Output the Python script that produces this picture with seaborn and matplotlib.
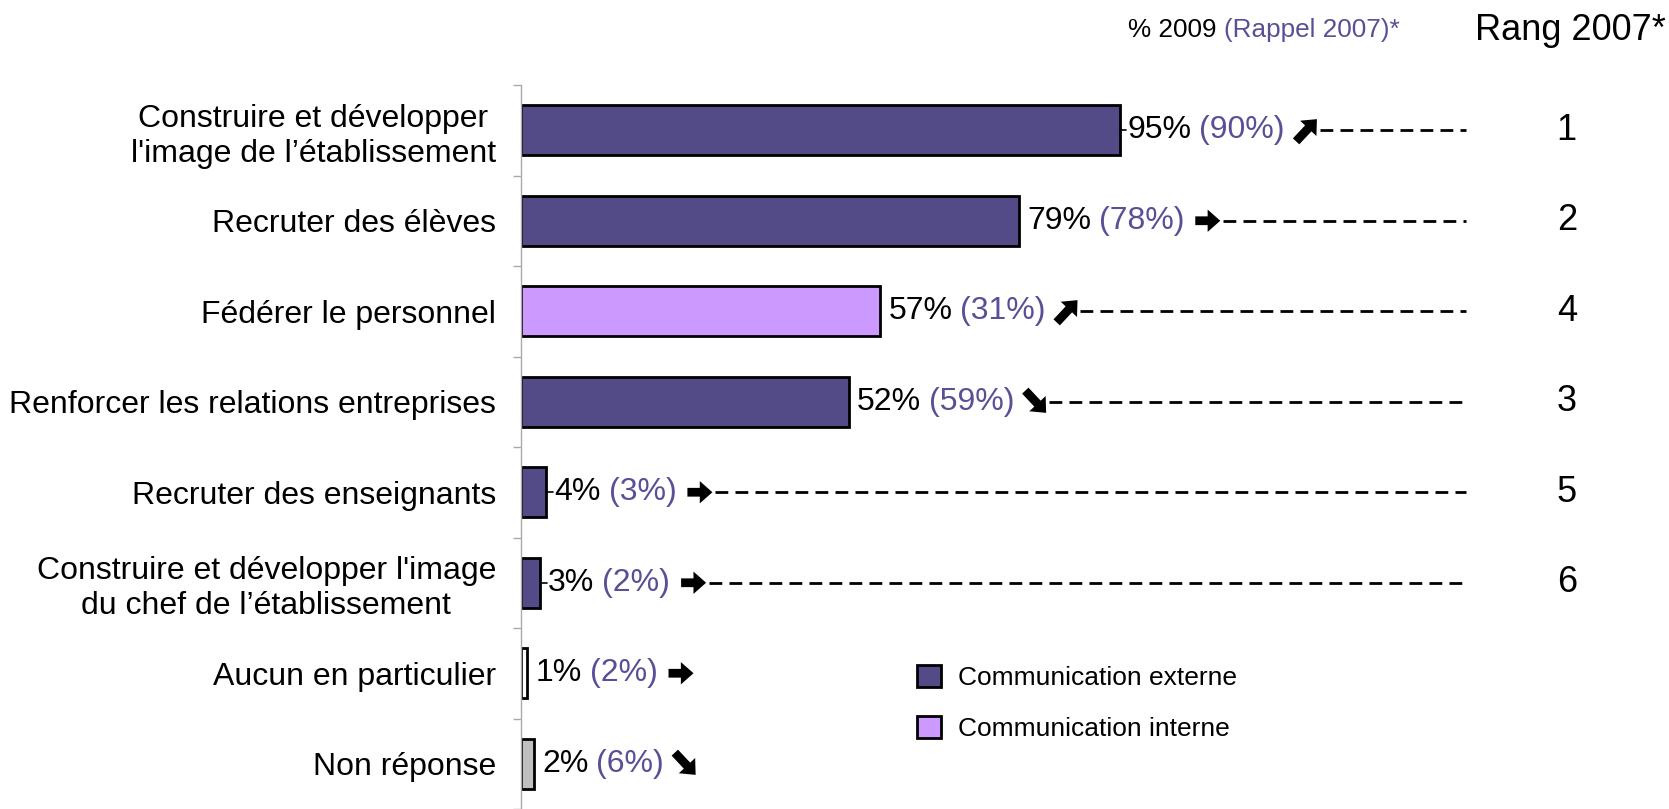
import matplotlib
matplotlib.use("Agg")
import matplotlib.pyplot as plt
import seaborn as sns
import pandas as pd
from matplotlib.patches import Patch
from matplotlib.text import OffsetFrom

categories = [
    "Construire et développer\nl'image de l’établissement",
    "Recruter des élèves",
    "Fédérer le personnel",
    "Renforcer les relations entreprises",
    "Recruter des enseignants",
    "Construire et développer l'image\ndu chef de l’établissement",
    "Aucun en particulier",
    "Non réponse",
]
values_2009 = [95, 79, 57, 52, 4, 3, 1, 2]
values_2007 = [90, 78, 31, 59, 3, 2, 2, 6]
trend = ["up", "right", "up", "down", "right", "right", "right", "down"]
rank_2007 = ["1", "2", "4", "3", "5", "6", "", ""]
comm_type = ["externe", "externe", "interne", "externe", "externe", "externe", "aucun", "nr"]
leader = [True, False, False, False, True, True, False, False]

type_colors = {"externe": "#524b87", "interne": "#cc99ff", "aucun": "#ffffff", "nr": "#c0c0c0"}
legend_labels = {"externe": "Communication externe", "interne": "Communication interne"}
purple_text = "#5a4f96"
# arrow start/end offsets (points) from the right edge of the recall label
arrow_geom = {"up": ((8, -8), (23, 8)), "right": ((8, 0), (26, 0)), "down": ((8, 8), (23, -8))}

sns.set_theme(style="white")
plt.rcParams["font.family"] = ["Liberation Sans", "DejaVu Sans"]
plt.rcParams["text.color"] = "black"

df = pd.DataFrame({"cat": categories, "v": values_2009, "t": comm_type})

W, H = 1669, 809
DPI = 100
fig = plt.figure(figsize=(W / DPI, H / DPI), dpi=DPI)
ax = fig.add_axes([521 / W, 0.0, 1134 / W, 1 - 85 / H])

sns.barplot(data=df, x="v", y="cat", hue="cat",
            palette=[type_colors[t] for t in comm_type], legend=False, saturation=1,
            edgecolor="black", linewidth=2, width=0.55, ax=ax, orient="h")

ax.set_xlim(0, 180)
ax.set_ylim(7.5, -0.5)
ax.set_xlabel("")
ax.set_ylabel("")
ax.set_xticks([])
for s in ["top", "right", "bottom"]:
    ax.spines[s].set_visible(False)
ax.spines["left"].set_color("#aaaaaa")
ax.spines["left"].set_linewidth(1)
ax.set_yticks(range(len(categories)))
ax.set_yticklabels(categories, fontsize=23, multialignment="center", color="black",
                   linespacing=1.22)
ax.tick_params(axis="y", which="major", length=0, pad=18)
ax.set_yticks([i - 0.5 for i in range(len(categories) + 1)], minor=True)
ax.tick_params(axis="y", which="minor", length=6, color="#aaaaaa", width=1, left=True)

fig.canvas.draw()
renderer = fig.canvas.get_renderer()
inv = ax.transData.inverted()

for i, (v, v7, tr, rk, ld) in enumerate(zip(values_2009, values_2007, trend, rank_2007, leader)):
    if ld:
        ax.plot([v, v + 1.1], [i, i], color="black", lw=1.2)
    t1 = ax.annotate(f"{v}%", xy=(v, i), xytext=(6, 0), textcoords="offset points",
                     fontsize=23, va="center", ha="left", color="black")
    t2 = ax.annotate(f"({v7}%)", xy=(1, 0.5), xycoords=t1, xytext=(5.5, 0),
                     textcoords="offset points", fontsize=23, va="center", ha="left",
                     color=purple_text)
    (sx, sy), (ex, ey) = arrow_geom[tr]
    ref = OffsetFrom(t2, (1, 0.5), unit="points")
    ax.annotate("", xy=(ex, ey), xycoords=ref, xytext=(sx, sy), textcoords=ref,
                arrowprops=dict(arrowstyle="simple,head_length=0.65,head_width=1.15,tail_width=0.45",
                                mutation_scale=14, color="black", shrinkA=0, shrinkB=0, lw=0))
    if rk:
        fig.canvas.draw()
        bb = t2.get_window_extent(renderer)
        x0 = inv.transform((bb.x1 + (max(sx, ex) + 2) * DPI / 72, 0))[0]
        ax.plot([x0, 150], [i, i], color="black", lw=2, ls=(0, (4.6, 2.6)))
        ax.text(166, i, rk, fontsize=26, ha="center", va="center", color="black")

# header
hdr = fig.text(1128 / W, 1 - 30 / H, "% 2009 ", fontsize=18.8, ha="left", va="center",
               color="black")
ax.annotate("(Rappel 2007)*", xy=(1, 0.5), xycoords=hdr, xytext=(0, 0),
            textcoords="offset points", fontsize=18.8, va="center", ha="left",
            color=purple_text, annotation_clip=False)
fig.text(1666 / W, 1 - 30 / H, "Rang 2007*", fontsize=26, ha="right", va="center",
         color="black")

handles = [Patch(facecolor=type_colors[k], edgecolor="black", linewidth=2, label=legend_labels[k])
           for k in ["externe", "interne"]]
fig.legend(handles=handles, loc="upper left", bbox_to_anchor=(917 / W, 1 - 665 / H),
           frameon=False, fontsize=19, handlelength=0.9, handleheight=0.9,
           handletextpad=0.65, labelspacing=0.98, borderpad=0, borderaxespad=0,
           labelcolor="black")

fig.savefig("out.png", dpi=DPI)
